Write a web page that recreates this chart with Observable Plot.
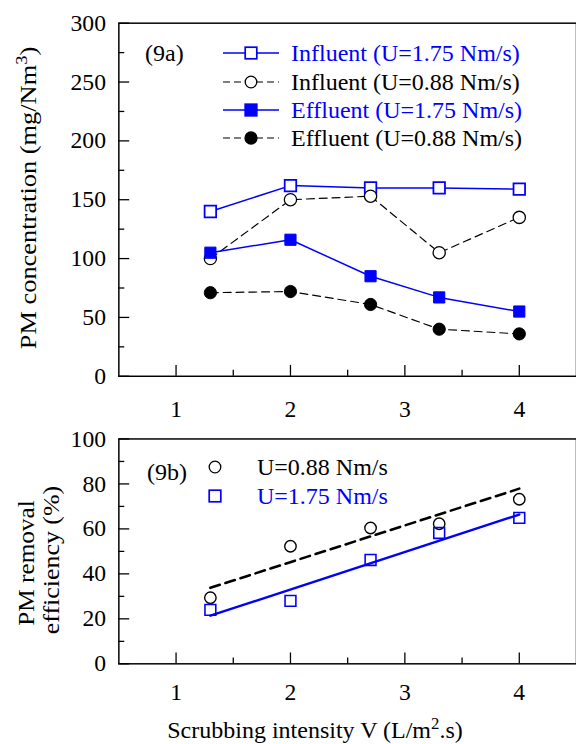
<!DOCTYPE html>
<html>
<head>
<meta charset="utf-8">
<script src="https://cdn.jsdelivr.net/npm/d3@7"></script>
<script src="https://cdn.jsdelivr.net/npm/@observablehq/plot@0.6"></script>
<style>
  html, body { margin: 0; padding: 0; background: #fff; }
  #wrap {
    position: relative; width: 576px; height: 744px; overflow: hidden;
    font-family: "Liberation Serif", "Times New Roman", serif; color: #000;
  }
  #wrap > svg { position: absolute; left: 0; }
  .t { position: absolute; white-space: nowrap; font-size: 24px; line-height: 24px; }
  .blue { color: #0000ff; }
  .t sup { font-size: 0.7em; vertical-align: 0.55em; line-height: 0; }
  .key { position: absolute; }
</style>
</head>
<body>
<div id="wrap"></div>
<script>
// Scrubbing intensity V (L/m2.s) of each run
const scrubV = [1.3, 2.0, 2.7, 3.3, 4.0];

// (9a) PM concentration, mg/Nm3
const influent175 = [140, 162, 160, 160, 159];
const influent088 = [100, 150, 153, 105, 135];
const effluent175 = [105, 116, 85, 67, 55];
const effluent088 = [71, 72, 61, 40, 36];

// (9b) PM removal efficiency, %
const eff088 = [29.4, 52.3, 60.4, 62.3, 73.2];
const eff175 = [24.0, 28.0, 46.2, 58.2, 64.9];

// linear fits drawn over (9b), evaluated at the ends of the V range
const fitV = [1.3, 4.0];
const fit088 = [33.8, 77.9];
const fit175 = [21.4, 66.4];

// axis ticks
const xTicks = [1, 2, 3, 4];
const xMinor = [1.5, 2.5, 3.5];
const concTicks = [0, 50, 100, 150, 200, 250, 300];
const concMinor = [25, 75, 125, 175, 225, 275];
const effTicks = [0, 20, 40, 60, 80, 100];
const effMinor = [10, 30, 50, 70, 90];

const BLUE = "#0000ff";
const FONT = "'Liberation Serif', 'Times New Roman', serif";

const zip = (xs, ys) => xs.map((x, i) => ({x, y: ys[i]}));

// inward-pointing major/minor ticks, labels outside, closed frame
function axes(yTicks, yMinor, xPad) {
  const blank = () => "";
  const fmt = d => String(d);
  return [
    Plot.axisX({ticks: xTicks, tickSize: 0, tickPadding: xPad, tickFormat: fmt, label: null}),
    Plot.axisX({ticks: xTicks, tickSize: -11, tickFormat: blank, label: null, strokeWidth: 1.3}),
    Plot.axisX({ticks: xMinor, tickSize: -6, tickFormat: blank, label: null, strokeWidth: 1.3}),
    Plot.axisY({ticks: yTicks, tickSize: 0, tickPadding: 13, tickFormat: fmt, label: null}),
    Plot.axisY({ticks: yTicks, tickSize: -11, tickFormat: blank, label: null, strokeWidth: 1.3}),
    Plot.axisY({ticks: yMinor, tickSize: -6, tickFormat: blank, label: null, strokeWidth: 1.3}),
    Plot.frame({stroke: "#000", strokeWidth: 1.5})
  ];
}

const style = {fontFamily: FONT, fontSize: "24px", color: "#000", background: "transparent", overflow: "visible"};

// Panel (9a): concentration lines
const topChart = Plot.plot({
  width: 584, height: 430,
  marginLeft: 120, marginRight: 0, marginTop: 23, marginBottom: 49,
  style,
  x: {domain: [0.5, 4.5]},
  y: {domain: [0, 300]},
  marks: [
    ...axes(concTicks, concMinor, 24),
    Plot.line(zip(scrubV, influent175), {x: "x", y: "y", stroke: BLUE, strokeWidth: 1.5}),
    Plot.line(zip(scrubV, influent088), {x: "x", y: "y", stroke: "#000", strokeWidth: 1.2, strokeDasharray: "8,5"}),
    Plot.line(zip(scrubV, effluent175), {x: "x", y: "y", stroke: BLUE, strokeWidth: 1.5}),
    Plot.line(zip(scrubV, effluent088), {x: "x", y: "y", stroke: "#000", strokeWidth: 1.2, strokeDasharray: "8,5"}),
    Plot.dot(zip(scrubV, influent175), {x: "x", y: "y", symbol: "square", r: 6.6, stroke: BLUE, fill: "#fff", strokeWidth: 1.8}),
    Plot.dot(zip(scrubV, influent088), {x: "x", y: "y", symbol: "circle", r: 6.2, stroke: "#000", fill: "#fff", strokeWidth: 1.3}),
    Plot.dot(zip(scrubV, effluent175), {x: "x", y: "y", symbol: "square", r: 6.4, stroke: BLUE, fill: BLUE, strokeWidth: 1}),
    Plot.dot(zip(scrubV, effluent088), {x: "x", y: "y", symbol: "circle", r: 6.2, stroke: "#000", fill: "#000", strokeWidth: 1})
  ]
});

// Panel (9b): removal efficiency with linear fits
const botChart = Plot.plot({
  width: 584, height: 300,
  marginLeft: 120, marginRight: 0, marginTop: 39, marginBottom: 33,
  style,
  x: {domain: [0.5, 4.5]},
  y: {domain: [0, 100]},
  marks: [
    ...axes(effTicks, effMinor, 20),
    Plot.line(zip(fitV, fit088), {x: "x", y: "y", stroke: "#000", strokeWidth: 2.6, strokeDasharray: "10,6"}),
    Plot.line(zip(fitV, fit175), {x: "x", y: "y", stroke: BLUE, strokeWidth: 2.4}),
    Plot.dot(zip(scrubV, eff088), {x: "x", y: "y", symbol: "circle", r: 5.8, stroke: "#000", fill: "none", strokeWidth: 1.4}),
    Plot.dot(zip(scrubV, eff175), {x: "x", y: "y", symbol: "square", r: 6.2, stroke: BLUE, fill: "none", strokeWidth: 1.6})
  ]
});

const wrap = document.getElementById("wrap");
topChart.style.top = "0px";
botChart.style.top = "400px";
wrap.appendChild(topChart);
wrap.appendChild(botChart);

// text placed by its visual centre line
function label(html, x, cy, cls = "") {
  const d = document.createElement("div");
  d.className = "t " + cls;
  d.innerHTML = html;
  d.style.left = x + "px";
  d.style.top = (cy - 12) + "px";
  wrap.appendChild(d);
  return d;
}
// vertical title, centred on (cx, cy), slightly stretched along its reading direction
function rotated(html, cx, cy, stretch) {
  const d = document.createElement("div");
  d.className = "t";
  d.innerHTML = html;
  d.style.left = cx + "px";
  d.style.top = cy + "px";
  d.style.transform = `translate(-50%, -50%) rotate(-90deg) scaleX(${stretch})`;
  wrap.appendChild(d);
}

// legend sample: short line with a marker in the middle
function key(x, cy, {stroke, dash, marker, fill, lineW}) {
  const w = 56, h = 16;
  const ns = "http://www.w3.org/2000/svg";
  const s = document.createElementNS(ns, "svg");
  s.setAttribute("width", w); s.setAttribute("height", h);
  s.setAttribute("class", "key");
  s.style.left = x + "px"; s.style.top = (cy - h / 2) + "px";
  let inner = "";
  if (lineW) inner += `<line x1="0" y1="8" x2="${w}" y2="8" stroke="${stroke}" stroke-width="${lineW}" ${dash ? `stroke-dasharray="${dash}"` : ""}/>`;
  const mx = lineW ? w / 2 : 8;
  if (marker === "square") inner += `<rect x="${mx - 5.8}" y="2.2" width="11.6" height="11.6" fill="${fill}" stroke="${stroke}" stroke-width="1.7"/>`;
  else inner += `<circle cx="${mx}" cy="8" r="${fill === "#000" ? 6 : 5.8}" fill="${fill}" stroke="${stroke}" stroke-width="1.3"/>`;
  s.innerHTML = inner;
  wrap.appendChild(s);
}

// panel (9a) legend
label("(9a)", 145, 53);
key(223, 53, {stroke: BLUE, marker: "square", fill: "#fff", lineW: 1.5});
label("Influent (U=1.75 Nm/s)", 291, 53, "blue");
key(223, 82, {stroke: "#000", dash: "7,4", marker: "circle", fill: "#fff", lineW: 1.2});
label("Influent (U=0.88 Nm/s)", 291, 82);
key(223, 110, {stroke: BLUE, marker: "square", fill: BLUE, lineW: 1.5});
label("Effluent (U=1.75 Nm/s)", 291, 110, "blue");
key(223, 138, {stroke: "#000", dash: "7,4", marker: "circle", fill: "#000", lineW: 1.2});
label("Effluent (U=0.88 Nm/s)", 291, 138);

// panel (9b) legend
label("(9b)", 147, 472);
key(207, 467, {stroke: "#000", marker: "circle", fill: "none"});
label("U=0.88 Nm/s", 257, 467);
key(207, 496, {stroke: BLUE, marker: "square", fill: "none"});
label("U=1.75 Nm/s", 257, 496, "blue");

// axis titles
rotated("PM concentration (mg/Nm<sup>3</sup>)", 28, 198, 1.1);
rotated("PM removal", 26, 563, 1.05);
rotated("efficiency (%)", 51, 560, 1.08);
const xt = label("Scrubbing intensity V (L/m<sup>2</sup>.s)", 315, 730);
xt.style.transform = "translateX(-50%)";
</script>
</body>
</html>
